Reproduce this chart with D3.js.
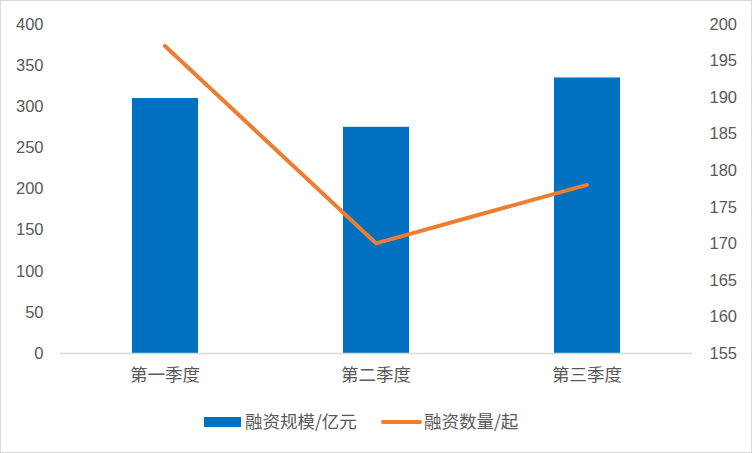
<!DOCTYPE html>
<html><head><meta charset="utf-8">
<script src="https://cdn.jsdelivr.net/npm/d3@7"></script>
<style>body{margin:0;background:#fff}svg{display:block}</style>
</head><body><svg id="c" width="752" height="453"></svg>
<script>
const categories = ["第一季度", "第二季度", "第三季度"];
const scaleValues = [310, 275, 335];      // 融资规模/亿元
const countValues = [197, 170, 178];      // 融资数量/起
const leftTicks = [0, 50, 100, 150, 200, 250, 300, 350, 400];
const rightTicks = [155, 160, 165, 170, 175, 180, 185, 190, 195, 200];
const seriesNames = ["融资规模/亿元", "融资数量/起"];

const svg = d3.select("#c");
const W = 752, H = 453;
const x0 = 59.5, x1 = 692.5, yTop = 24, yBot = 353;
const cjk = "'Noto Sans CJK SC', sans-serif";
const txt = "#595959";

svg.append("rect").attr("x", 0.5).attr("y", 0.5).attr("width", W - 1).attr("height", H - 1)
  .attr("fill", "#fff").attr("stroke", "#d9d9d9");

const x = d3.scaleBand().domain(categories).range([x0, x1]).padding(0);
const yL = d3.scaleLinear().domain([0, 400]).range([yBot, yTop]);
const yR = d3.scaleLinear().domain([155, 200]).range([yBot, yTop]);
const bw = x.bandwidth() * 0.313;

// left axis
const gl = svg.append("g").attr("transform", `translate(${x0},0)`)
  .call(d3.axisLeft(yL).tickValues(leftTicks).tickSize(0).tickPadding(16));
gl.select(".domain").remove();
gl.selectAll("text").attr("font-family", "'Liberation Sans', sans-serif").attr("font-size", 16.5).attr("fill", txt);

// right axis
const gr = svg.append("g").attr("transform", `translate(${x1},0)`)
  .call(d3.axisRight(yR).tickValues(rightTicks).tickSize(0).tickPadding(17));
gr.select(".domain").remove();
gr.selectAll("text").attr("font-family", "'Liberation Sans', sans-serif").attr("font-size", 16.5).attr("fill", txt);

// bars
svg.append("g").selectAll("rect").data(scaleValues).join("rect")
  .attr("x", (d, i) => x(categories[i]) + x.bandwidth() / 2 - bw / 2)
  .attr("width", bw)
  .attr("y", d => yL(d))
  .attr("height", d => yL(0) - yL(d))
  .attr("fill", "#0070C0");

// baseline
svg.append("line").attr("x1", x0).attr("x2", x1).attr("y1", yBot + 0.5).attr("y2", yBot + 0.5)
  .attr("stroke", "#d9d9d9").attr("stroke-width", 1.5);

// category axis
const gb = svg.append("g").attr("transform", `translate(0,${yBot})`)
  .call(d3.axisBottom(x).tickSize(0).tickPadding(16));
gb.select(".domain").remove();
gb.selectAll("text").attr("font-family", cjk).attr("font-size", 17.5).attr("fill", txt);

// line
const line = d3.line().x((d, i) => x(categories[i]) + x.bandwidth() / 2).y(d => yR(d));
svg.append("path").datum(countValues).attr("d", line)
  .attr("fill", "none").attr("stroke", "#ED7D31").attr("stroke-width", 4)
  .attr("stroke-linecap", "round").attr("stroke-linejoin", "round");

// legend
const lg = svg.append("g");
lg.append("rect").attr("x", 204).attr("y", 417).attr("width", 37).attr("height", 10).attr("fill", "#0070C0");
lg.append("text").attr("x", 245).attr("y", 422).attr("dy", "0.35em").text(seriesNames[0])
  .attr("font-family", cjk).attr("font-size", 17.5).attr("fill", txt);
lg.append("line").attr("x1", 383).attr("x2", 420).attr("y1", 422).attr("y2", 422)
  .attr("stroke", "#ED7D31").attr("stroke-width", 4).attr("stroke-linecap", "round");
lg.append("text").attr("x", 424).attr("y", 422).attr("dy", "0.35em").text(seriesNames[1])
  .attr("font-family", cjk).attr("font-size", 17.5).attr("fill", txt);
</script></body></html>
